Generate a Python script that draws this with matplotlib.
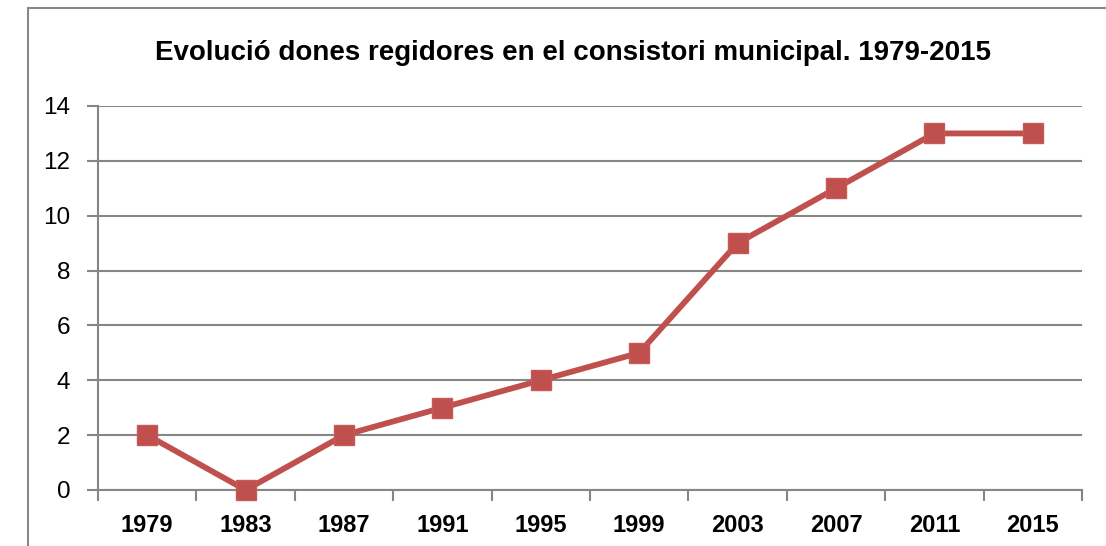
import matplotlib
matplotlib.use("Agg")
import matplotlib.pyplot as plt
from matplotlib.patches import Rectangle

years = ["1979", "1983", "1987", "1991", "1995", "1999", "2003", "2007", "2011", "2015"]
regidores = [2, 0, 2, 3, 4, 5, 9, 11, 13, 13]

plt.rcParams['font.family'] = ['Liberation Sans', 'DejaVu Sans']

fig = plt.figure(figsize=(11.06, 5.46), dpi=100)
ax = fig.add_axes([98 / 1106, 1 - 490 / 546, 984 / 1106, 384 / 546])

# outer frame of the chart area (right/bottom edges fall outside the image)
fig.patches.append(Rectangle((28 / 1106, -0.1), 1.2, 1 - 8 / 546 + 0.1,
                             transform=fig.transFigure, fill=False,
                             edgecolor='#888888', linewidth=1.5, zorder=0))

x = list(range(len(years)))
ax.plot(x, regidores, color='#C0504D', linewidth=4.2, marker='s',
        markersize=14.5, markerfacecolor='#C0504D', markeredgecolor='#C55A57',
        zorder=3, clip_on=False)

ax.set_xlim(-0.5, len(years) - 0.5)
ax.set_ylim(0, 14)
ax.set_yticks(range(0, 15, 2))
ax.set_yticklabels([str(v) for v in range(0, 15, 2)], fontsize=17.5)
ax.set_xticks(x)
ax.set_xticklabels(years, fontsize=17, fontweight='bold')
ax.set_xticks([i - 0.5 for i in range(len(years) + 1)], minor=True)
ax.tick_params(axis='x', which='major', length=0, pad=17)
ax.tick_params(axis='x', which='minor', length=8, width=1.5, color='#868686', direction='out')
ax.tick_params(axis='y', length=8, width=1.5, color='#868686', direction='out', pad=12)

ax.grid(axis='y', color='#868686', linewidth=1.5)
ax.set_axisbelow(True)
for s in ['top', 'right']:
    ax.spines[s].set_visible(False)
for s in ['left', 'bottom']:
    ax.spines[s].set_color('#868686')
    ax.spines[s].set_linewidth(1.5)

fig.text(573 / 1106, 1 - 53 / 546, "Evolució dones regidores en el consistori municipal. 1979-2015",
         ha='center', va='center', fontsize=20, fontweight='bold')

fig.savefig("out.png", dpi=100)
